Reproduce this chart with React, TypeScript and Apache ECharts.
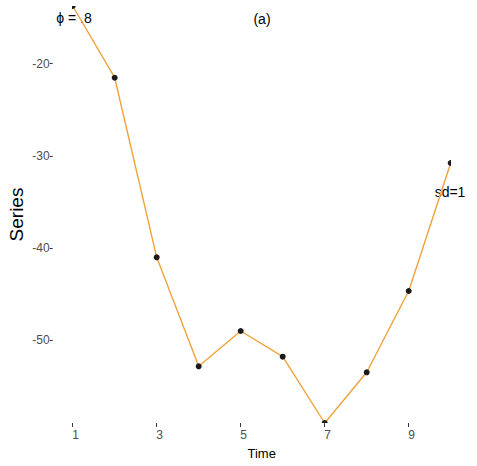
import React, { useEffect, useRef } from "react";
import * as echarts from "echarts";

const timeValues = [1, 2, 3, 4, 5, 6, 7, 8, 9, 10];
const seriesValues = [-13.75, -21.53, -41.01, -52.83, -49.0, -51.79, -58.98, -53.48, -44.66, -30.78];
const xTicks = [1, 3, 5, 7, 9];
const yTicks = [-50, -40, -30, -20];

const FONT = "Liberation Sans, Arial, sans-serif";

export default function App() {
  const ref = useRef<HTMLDivElement>(null);
  useEffect(() => {
    if (!ref.current) return;
    const chart = echarts.init(ref.current, null, { renderer: "svg" });
    const data = timeValues.map((t, i) => [t, seriesValues[i]]);
    const yMin = Math.min(...seriesValues);
    const yMax = Math.max(...seriesValues);
    chart.setOption({
      animation: false,
      backgroundColor: "#ffffff",
      grid: { left: 72.7, right: 26.3, top: 6, bottom: 43, containLabel: false, outerBoundsMode: "none" },
      xAxis: {
        type: "value",
        min: 1,
        max: 10,
        name: "Time",
        nameLocation: "middle",
        nameGap: 24,
        nameMoveOverlap: false,
        nameTextStyle: { fontFamily: FONT, fontSize: 13, color: "#000" },
        axisLine: { show: false },
        splitLine: { show: false },
        axisTick: { show: true, length: 4, customValues: xTicks, lineStyle: { color: "#333", width: 1 } },
        axisLabel: {
          customValues: xTicks,
          margin: 6,
          fontFamily: FONT,
          fontSize: 12,
          color: "#4d4d4d",
          padding: [0, 0, 0, 6],
        },
      },
      yAxis: {
        type: "value",
        min: yMin,
        max: yMax,
        offset: 20,
        name: "Series",
        nameLocation: "middle",
        nameGap: 27,
        nameMoveOverlap: false,
        nameTextStyle: { fontFamily: FONT, fontSize: 19, color: "#000" },
        axisLine: { show: false },
        splitLine: { show: false },
        axisTick: { show: true, length: 3, customValues: yTicks, lineStyle: { color: "#333", width: 1 } },
        axisLabel: {
          customValues: yTicks,
          margin: 3,
          fontFamily: FONT,
          fontSize: 12,
          color: "#4d4d4d",
          padding: [0, 0, 4, 0],
        },
      },
      series: [
        {
          type: "line",
          data,
          showSymbol: false,
          symbol: "none",
          z: 2,
          lineStyle: { color: "#F0A23B", width: 1.4 },
          clip: true,
        },
        {
          type: "custom",
          data,
          clip: true,
          z: 5,
          renderItem: (params: any, api: any) => {
            const p = api.coord([api.value(0), api.value(1)]);
            return {
              type: "circle",
              shape: { cx: p[0], cy: p[1], r: 3 },
              style: { fill: "#1a1a1a" },
            };
          },
        },
      ],
      graphic: [
        { type: "text", x: 74, y: 18, style: { text: "ϕ = .8", font: `14px ${FONT}`, fill: "#000", align: "center", verticalAlign: "middle" } },
        { type: "text", x: 262, y: 19, style: { text: "(a)", font: `14px ${FONT}`, fill: "#000", align: "center", verticalAlign: "middle" } },
        { type: "text", x: 450, y: 192, style: { text: "sd=1", font: `14px ${FONT}`, fill: "#000", align: "center", verticalAlign: "middle" } },
      ],
    });
    return () => chart.dispose();
  }, []);
  return <div ref={ref} style={{ width: 477, height: 466, position: "absolute", left: 0, top: 0 }} />;
}
